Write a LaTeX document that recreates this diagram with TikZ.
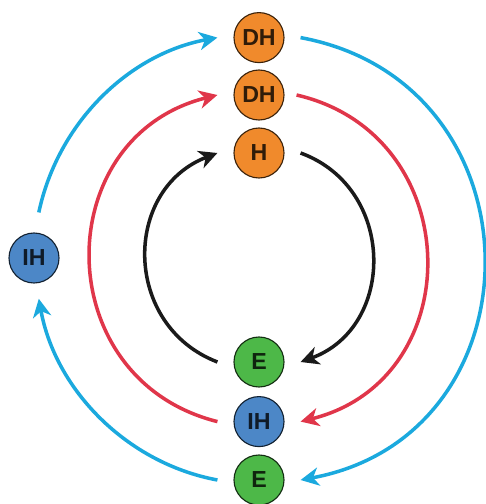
\documentclass[tikz,border=0pt]{standalone}
\usepackage{fontspec}
\setmainfont{Liberation Sans}
\usepackage{tikz}
\usetikzlibrary{arrows.meta}
\definecolor{nodeorange}{HTML}{F08A2C}
\definecolor{nodeblue}{HTML}{4C87C7}
\definecolor{nodegreen}{HTML}{4DB848}
\definecolor{arrcyan}{HTML}{1BA9DE}
\definecolor{arrred}{HTML}{E0364A}
\definecolor{arrblack}{HTML}{1A1A1A}
\tikzset{
  circO/.style={ draw=black!75!nodeorange, line width=0.8pt, circle, fill=nodeorange, minimum size=1.25cm, inner sep=0pt,
    text=black!80!nodeorange, font=\fontsize{16.5}{18}\selectfont\bfseries }
}
\tikzset{
  circB/.style={ draw=black!75!nodeblue, line width=0.8pt, circle, fill=nodeblue, minimum size=1.25cm, inner sep=0pt,
    text=black!80!nodeblue, font=\fontsize{16.5}{18}\selectfont\bfseries }
}
\tikzset{
  circG/.style={ draw=black!75!nodegreen, line width=0.8pt, circle, fill=nodegreen, minimum size=1.25cm, inner sep=0pt,
    text=black!80!nodegreen, font=\fontsize{16.5}{18}\selectfont\bfseries }
}
\tikzset{
  cyc/.style={ line width=2.5pt, -{Stealth[length=13pt, width=13pt, inset=4pt]} }
}

\begin{document}
\begin{tikzpicture}[y=1cm, x=1cm]
      \useasboundingbox (-6.475,-6.15) rectangle (5.65,6.45);

      \node[circO] (dh1) at (0, 5.51) {DH};
      \node[circO] (dh2) at (0, 4.075) {DH};
      \node[circO] (h) at (0, 2.625) {H};
      \node[circG] (e1) at (0, -2.6) {E};
      \node[circB] (ih2) at (0, -4.09) {IH};
      \node[circG] (e2) at (0, -5.55) {E};
      \node[circB] (ih1) at (-5.625, 0) {IH};

      \draw[cyc, arrblack] ([xshift=-4mm]e1.west) to[out=159, in=201, looseness=1.25] ([xshift=-4mm]h.west);
      \draw[cyc, arrblack] ([xshift=4mm]h.east) to[out=-20, in=20, looseness=1.25] ([xshift=4mm]e1.east);

      \draw[cyc, arrred] ([xshift=-4mm]ih2.west) to[out=166, in=194, looseness=1.37] ([xshift=-4mm]dh2.west);
      \draw[cyc, arrred] ([xshift=3mm]dh2.east) to[out=-13, in=14, looseness=1.37] ([xshift=4mm]ih2.east);

      \draw[cyc, arrcyan] ([shift={(0.12,0.5)}]ih1.north) to[out=78, in=190.6, looseness=0.93] ([xshift=-4mm]dh1.west);
      \draw[cyc, arrcyan] ([xshift=4mm]dh1.east) to[out=-10.5, in=10.5, looseness=1.44] ([xshift=4mm]e2.east);
      \draw[cyc, arrcyan] ([xshift=-4mm]e2.west) to[out=169.5, in=-79.7, looseness=0.93] ([shift={(0.12,-0.38)}]ih1.south);
    \end{tikzpicture}
\end{document}
